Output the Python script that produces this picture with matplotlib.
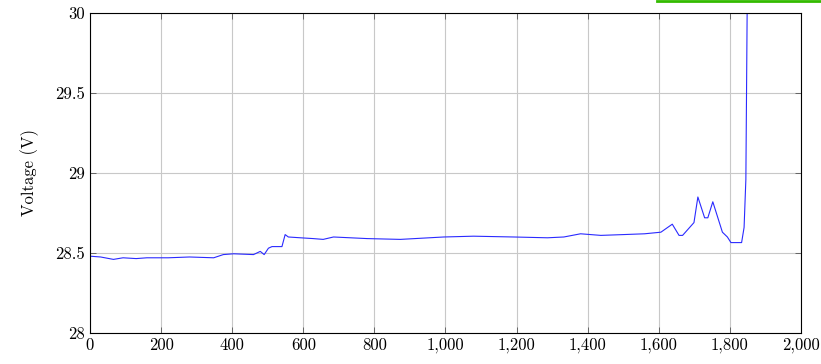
import matplotlib.pyplot as plt
from matplotlib.lines import Line2D
from matplotlib.ticker import FuncFormatter

plt.rcParams['font.family'] = ['cmr10', 'DejaVu Serif']
plt.rcParams['axes.formatter.use_mathtext'] = True

# readings taken off the curve (time, voltage)
t = [0, 30, 66, 93, 130, 160, 220, 280, 348, 375, 404, 460, 479, 490, 502,
     512, 540, 549, 558, 592, 628, 656, 685, 780, 873, 995, 1079, 1192, 1287,
     1333, 1380, 1437, 1500, 1560, 1606, 1638, 1657, 1667, 1699, 1710, 1729,
     1738, 1752, 1779, 1793, 1803, 1833, 1840, 1845, 1852]
volts = [28.48, 28.475, 28.46, 28.47, 28.465, 28.47, 28.47, 28.475, 28.47,
         28.49, 28.495, 28.49, 28.51, 28.49, 28.53, 28.54, 28.54, 28.615,
         28.60, 28.595, 28.59, 28.585, 28.60, 28.59, 28.585, 28.60, 28.605,
         28.60, 28.595, 28.60, 28.62, 28.61, 28.615, 28.62, 28.63, 28.68,
         28.61, 28.61, 28.69, 28.85, 28.72, 28.72, 28.82, 28.63, 28.60,
         28.565, 28.565, 28.66, 28.96, 31.0]

fig = plt.figure(figsize=(8.21, 3.64), dpi=100)
ax = fig.add_axes([0.1096, 0.0852, 0.8660, 0.8791])

ax.plot(t, volts, color='#2a2aff', lw=0.8)

ax.set_xlim(0, 2000)
ax.set_ylim(28, 30)
ax.set_xticks(range(0, 2001, 200))
ax.set_yticks([28, 28.5, 29, 29.5, 30])
ax.xaxis.set_major_formatter(FuncFormatter(lambda v, p: f'{int(v):,}'))
ax.yaxis.set_major_formatter(FuncFormatter(lambda v, p: f'{v:g}'))
ax.set_ylabel('Voltage (V)', fontsize=12, labelpad=12)
ax.grid(True, color='#c8c8c8', lw=0.8)
ax.tick_params(direction='in', top=True, right=True, labelsize=12, length=4,
               width=0.6, color='#555555')
for s in ax.spines.values():
    s.set_linewidth(0.8)

# green mark at top edge of the reference crop
fig.add_artist(Line2D([657 / 821, 1.0], [0.998, 0.998], color='#33bb00', lw=2))

fig.savefig('out.png', dpi=100)
